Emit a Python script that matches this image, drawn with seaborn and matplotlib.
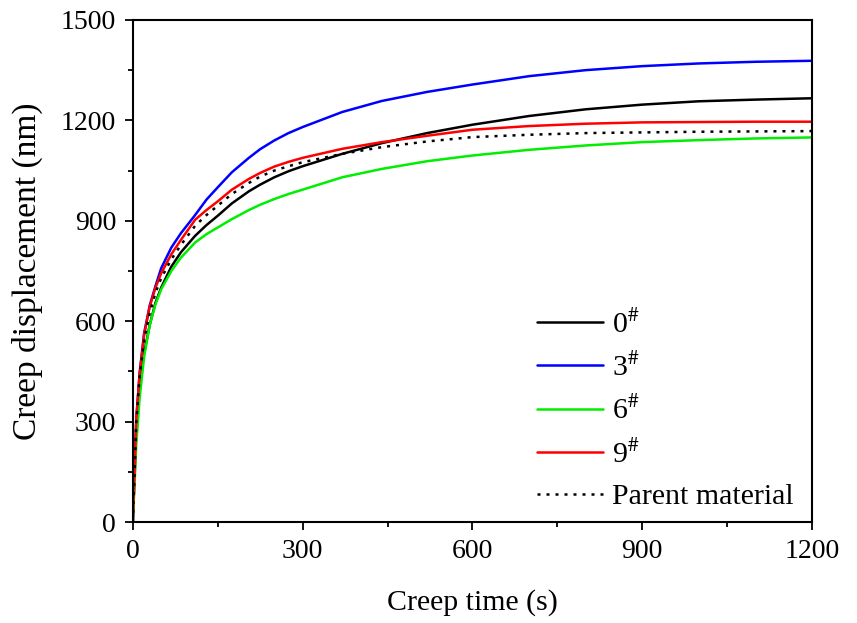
import numpy as np
import pandas as pd
import matplotlib
matplotlib.use("Agg")
import matplotlib.pyplot as plt
import seaborn as sns
from matplotlib.ticker import MultipleLocator

sns.set_theme(style="ticks")
plt.rcParams['font.family'] = ['Liberation Serif', 'DejaVu Serif']
plt.rcParams['mathtext.fontset'] = 'stix'
plt.rcParams['text.color'] = 'black'
plt.rcParams['axes.labelcolor'] = 'black'
plt.rcParams['xtick.color'] = 'black'
plt.rcParams['ytick.color'] = 'black'

time_s = [0, 1, 3, 6, 12, 20, 30, 40, 50, 68, 85, 110, 130, 150, 175, 205, 225, 250, 275, 300,
          370, 440, 520, 600, 700, 800, 900, 1000, 1100, 1200]
s0 = [0, 50, 130, 280, 415, 505, 590, 655, 700, 763, 806, 855, 887, 915, 952, 988, 1008, 1030, 1048, 1063,
      1100, 1132, 1162, 1187, 1213, 1233, 1247, 1257, 1262, 1266]
s3 = [0, 60, 145, 305, 444, 565, 648, 705, 758, 820, 863, 917, 963, 1000, 1045, 1088, 1114, 1140, 1162, 1180,
      1225, 1258, 1285, 1307, 1332, 1350, 1362, 1370, 1375, 1378]
s6 = [0, 40, 110, 230, 370, 495, 590, 650, 695, 750, 790, 835, 860, 880, 905, 932, 948, 965, 980, 993,
      1030, 1055, 1078, 1095, 1112, 1125, 1135, 1141, 1146, 1149]
s9 = [0, 60, 145, 305, 444, 560, 645, 700, 743, 800, 843, 903, 932, 958, 993, 1025, 1043, 1062, 1076, 1088,
      1115, 1135, 1154, 1172, 1183, 1190, 1194, 1195, 1196, 1196]
parent = [0, 55, 140, 295, 435, 545, 625, 685, 728, 785, 828, 885, 917, 945, 980, 1013, 1032, 1050, 1063, 1075,
          1100, 1120, 1137, 1150, 1157, 1162, 1164, 1166, 1167, 1168]

labels = [r'0$^{\#}$', r'3$^{\#}$', r'6$^{\#}$', r'9$^{\#}$', 'Parent material']
series = [s0, s3, s6, s9, parent]
colors = ['#000000', '#0000ff', '#00ee00', '#ff0000', '#000000']

fig = plt.figure(figsize=(8.57, 6.23), dpi=100)
ax = fig.add_axes([0.155, 0.162, 0.7925, 0.806])

for lab, ys, c in zip(labels, series, colors):
    df = pd.DataFrame({'t': time_s, 'd': ys})
    sns.lineplot(data=df, x='t', y='d', ax=ax, color=c, lw=1.8, label=lab)
ax.lines[-1].set_dashes([1.2, 2.4])

ax.set_xlim(0, 1200)
ax.set_ylim(0, 1500)
ax.xaxis.set_major_locator(MultipleLocator(300))
ax.xaxis.set_minor_locator(MultipleLocator(150))
ax.yaxis.set_major_locator(MultipleLocator(300))
ax.yaxis.set_minor_locator(MultipleLocator(150))
ax.tick_params(which='major', direction='out', length=6, width=1.3, labelsize=20, pad=6)
ax.tick_params(which='minor', direction='out', length=3.5, width=1.3)
for sp in ax.spines.values():
    sp.set_visible(True)
    sp.set_linewidth(1.5)
    sp.set_color('black')
ax.set_xlabel('Creep time (s)', fontsize=21.5, labelpad=18)
ax.set_ylabel('Creep displacement (nm)', fontsize=24, labelpad=13)

leg = ax.legend(loc='upper left', bbox_to_anchor=(0.595, 0.422), frameon=False,
                fontsize=21.5, handlelength=2.2, handletextpad=0.3, labelspacing=0.5,
                borderaxespad=0, borderpad=0)
leg.get_lines()[-1].set_dashes([1.2, 2.4])

fig.savefig('out.png', dpi=100)
